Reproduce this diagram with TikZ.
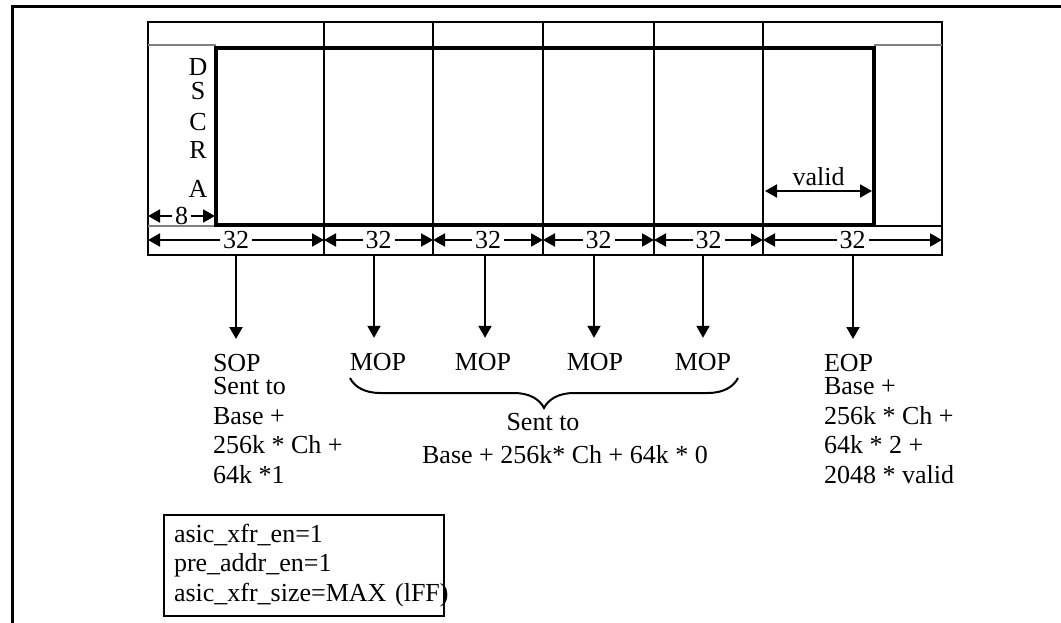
\documentclass[tikz,border=0pt]{standalone}
\usepackage{fontspec}
\setmainfont{Liberation Serif}
\usepackage{tikz}
\usetikzlibrary{positioning}
\usetikzlibrary{arrows.meta}
\usetikzlibrary{decorations.pathreplacing}
\tikzset{edge/.style = {->,> = {Triangle[length=12pt,width=13pt]}}}
\tikzset{dim/.style = {<->,> = {Triangle[length=12pt,width=13pt]}}}

\begin{document}
\begin{tikzpicture}[x=1pt,y=-1pt,line width=2pt,every node/.style={inner sep=0pt,font=\fontsize{26}{29.5}\selectfont},lbl/.style={align=left,anchor=north west},cut/.style={fill=white,inner xsep=3pt}]
            \useasboundingbox (0,0) rectangle (1061,623);
            % page frame
            \draw[line width=3pt] (1061,7) -- (12,7) -- (12,623);

            % word table
            \draw (148,22) rectangle (942,255);
            \foreach \x in {324,433,543,654,763} \draw (\x,22) -- (\x,255);
            \draw[gray,line width=1.5pt] (148,45) -- (216,45) (874,45) -- (942,45) (148,226) -- (216,226);
            \draw (874,226) -- (942,226);
            \draw[line width=4pt] (216,48) rectangle (874,225);

            \foreach \l/\y in {D/76,S/100,C/131,R/159,A/197}
                \node[anchor=base] (dscra\l) at (198,\y) {\l};

            % widths
            \foreach \i/\x in {0/148,1/324,2/433,3/543,4/654,5/763,6/942}
                \coordinate (c\i) at (\x,240);
            \foreach \a/\b in {0/1,1/2,2/3,3/4,4/5,5/6}
                \draw[dim] (c\a) -- node[cut] (w\b) {32} (c\b);

            \coordinate (e0) at (148,216);
            \coordinate (e1) at (215,216);
            \draw[dim] (e0) -- node[cut] (eight) {8} (e1);

            \coordinate (v0) at (765,191);
            \coordinate (v1) at (872,191);
            \draw[dim] (v0) -- node[above=4pt] (valid) {valid} (v1);

            % targets
            \foreach \i/\x in {1/236,2/374,3/485,4/594,5/703,6/853}
                \coordinate (t\i) at (\x,255);

            \node[lbl] (sop) at (212,353) {SOP\\[-6pt]Sent to\\Base +\\256k * Ch +\\64k *1};
            \node[anchor=base] (mop1) at (378,370) {MOP};
            \node[anchor=base] (mop2) at (483,370) {MOP};
            \node[anchor=base] (mop3) at (595,370) {MOP};
            \node[anchor=base] (mop4) at (703,370) {MOP};
            \node[lbl] (eop) at (823,353) {EOP\\[-6pt]Base +\\256k * Ch +\\64k * 2 +\\2048 * valid};

            \foreach \i/\n in {1/sop,2/mop1,3/mop2,4/mop3,5/mop4,6/eop}
                \draw[edge,shorten >=14pt] (t\i) -- (t\i |- \n.north);

            \coordinate (b0) at (350,378);
            \coordinate (b1) at (738,378);
            \draw[decorate,decoration={brace,mirror,amplitude=30pt}] (b0) -- (b1);
            \node[anchor=base] (sentto) at (543,430) {Sent to};
            \node[anchor=base] (mopaddr) at (565,463) {Base + 256k* Ch + 64k * 0};

            \node[draw,anchor=north west,align=left,text width=260pt,minimum height=101pt,inner xsep=10pt] (regs) at (163,514) {asic\_xfr\_en=1\\pre\_addr\_en=1\\asic\_xfr\_size=MAX~(lFF)};

        \end{tikzpicture}
\end{document}
